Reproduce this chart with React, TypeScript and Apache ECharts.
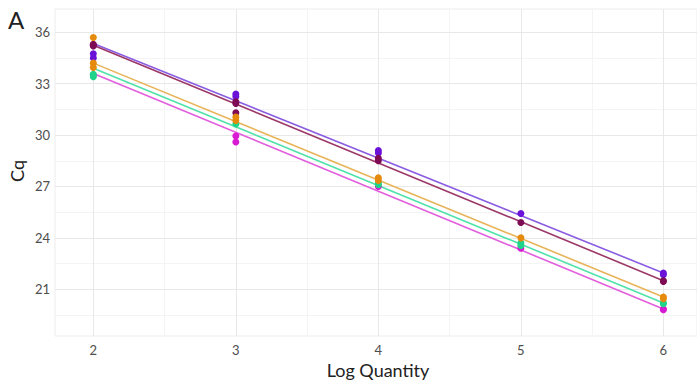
import React, { useEffect, useRef } from "react";
import * as echarts from "echarts";

const xTicks = [2, 3, 4, 5, 6];
const xMinor = [2.5, 3.5, 4.5, 5.5];
const yTicks = [21, 24, 27, 30, 33, 36];
const yMinor = [19.5, 22.5, 25.5, 28.5, 31.5, 34.5];

const seriesNames = ["Violet", "Maroon", "Orange", "Green", "Magenta"];
const pointColors = ["#6a12d8", "#7e0c55", "#e58a0c", "#1fd38a", "#d81ad2"];
const lineColors = ["#8a5ce2", "#9c3868", "#e8b458", "#4fe2aa", "#e25ede"];

const violetPoints = [[2, 35.25], [2, 34.75], [2, 34.5], [3, 32.4], [3, 32.25], [4, 29.1], [4, 28.95], [5, 25.42], [6, 21.95], [6, 21.85]];
const maroonPoints = [[2, 35.3], [2, 35.2], [3, 31.95], [3, 31.85], [3, 31.3], [4, 28.65], [4, 28.5], [5, 24.9], [6, 21.5], [6, 21.45]];
const orangePoints = [[2, 35.7], [2, 34.2], [2, 33.95], [3, 31.05], [3, 30.85], [4, 27.5], [4, 27.35], [5, 24.0], [6, 20.55], [6, 20.45]];
const greenPoints = [[2, 33.55], [2, 33.4], [3, 30.65], [4, 27.2], [4, 27.1], [5, 23.7], [5, 23.55], [6, 20.2], [6, 20.15]];
const magentaPoints = [[2, 33.5], [3, 29.95], [3, 29.6], [4, 27.0], [5, 23.4], [6, 19.85], [6, 19.8]];
const allPoints = [violetPoints, maroonPoints, orangePoints, greenPoints, magentaPoints];

const fitX = [2, 6];
const fitStart = [35.35, 35.25, 34.2, 33.9, 33.6];
const fitEnd = [21.95, 21.5, 20.55, 20.2, 19.85];

const drawOrder = [4, 3, 0, 1, 2];

const FONT = "Lato, 'Noto Sans', sans-serif";

export default function App() {
  const ref = useRef<HTMLDivElement>(null);
  useEffect(() => {
    if (!ref.current) return;
    const chart = echarts.init(ref.current, null, { renderer: "svg" });
    const lineSeries = fitStart.map((s, i) => ({
      type: "line",
      name: seriesNames[i] + " fit",
      data: [[fitX[0], s], [fitX[1], fitEnd[i]]],
      showSymbol: false,
      symbol: "none",
      lineStyle: { color: lineColors[i], width: 1.6 },
      z: 2,
      silent: true,
    }));
    const pointSeries = drawOrder.map((i) => ({
      type: "scatter",
      name: seriesNames[i],
      data: allPoints[i],
      symbolSize: 7,
      itemStyle: { color: pointColors[i], opacity: 1 },
      z: 3,
    }));
    const commonMinor = {
      show: true,
      axisLine: { show: false },
      axisTick: { show: false, customValues: [] as number[] },
      axisLabel: { show: false },
    };
    chart.setOption({
      animation: false,
      textStyle: { fontFamily: FONT },
      grid: {
        left: 55,
        right: 0,
        top: 9,
        bottom: 50,
        show: true,
        borderColor: "#ececec",
        borderWidth: 1,
        backgroundColor: "transparent",
      },
      xAxis: [
        {
          type: "value",
          min: 1.731,
          max: 6.236,
          axisLine: { show: false },
          axisTick: { show: false, customValues: xTicks },
          axisLabel: {
            customValues: xTicks,
            color: "#4d4d4d",
            fontSize: 13,
            margin: 7,
            fontFamily: FONT,
          },
          splitLine: { show: true, lineStyle: { color: "#e8e8e8", width: 1 } },
          z: 1,
        },
        {
          type: "value",
          min: 1.731,
          max: 6.236,
          position: "bottom",
          ...commonMinor,
          axisTick: { show: false, customValues: xMinor },
          splitLine: { show: true, lineStyle: { color: "#f4f4f4", width: 1 } },
          z: 0,
        },
      ],
      yAxis: [
        {
          type: "value",
          min: 18.27,
          max: 37.36,
          axisLine: { show: false },
          axisTick: { show: false, customValues: yTicks },
          axisLabel: {
            customValues: yTicks,
            color: "#4d4d4d",
            fontSize: 13,
            margin: 5,
            fontFamily: FONT,
          },
          splitLine: { show: true, lineStyle: { color: "#e8e8e8", width: 1 } },
          z: 1,
        },
        {
          type: "value",
          min: 18.27,
          max: 37.36,
          position: "left",
          ...commonMinor,
          axisTick: { show: false, customValues: yMinor },
          splitLine: { show: true, lineStyle: { color: "#f4f4f4", width: 1 } },
          z: 0,
        },
      ],
      graphic: [
        {
          type: "text",
          left: 8,
          top: 7,
          style: { text: "A", fontSize: 24, fill: "#222", fontFamily: FONT },
        },
        {
          type: "text",
          x: 17,
          y: 171,
          rotation: Math.PI / 2,
          style: {
            text: "Cq",
            fontSize: 18,
            fill: "#222",
            fontFamily: FONT,
            textAlign: "center",
            textVerticalAlign: "middle",
          },
        },
        {
          type: "text",
          x: 378,
          y: 370,
          style: {
            text: "Log Quantity",
            fontSize: 18,
            fill: "#222",
            fontFamily: FONT,
            textAlign: "center",
            textVerticalAlign: "middle",
          },
        },
      ],
      series: [...lineSeries, ...pointSeries],
    });
    return () => chart.dispose();
  }, []);
  return (
    <div
      ref={ref}
      style={{ position: "absolute", left: 0, top: 0, width: 697, height: 386 }}
    />
  );
}
